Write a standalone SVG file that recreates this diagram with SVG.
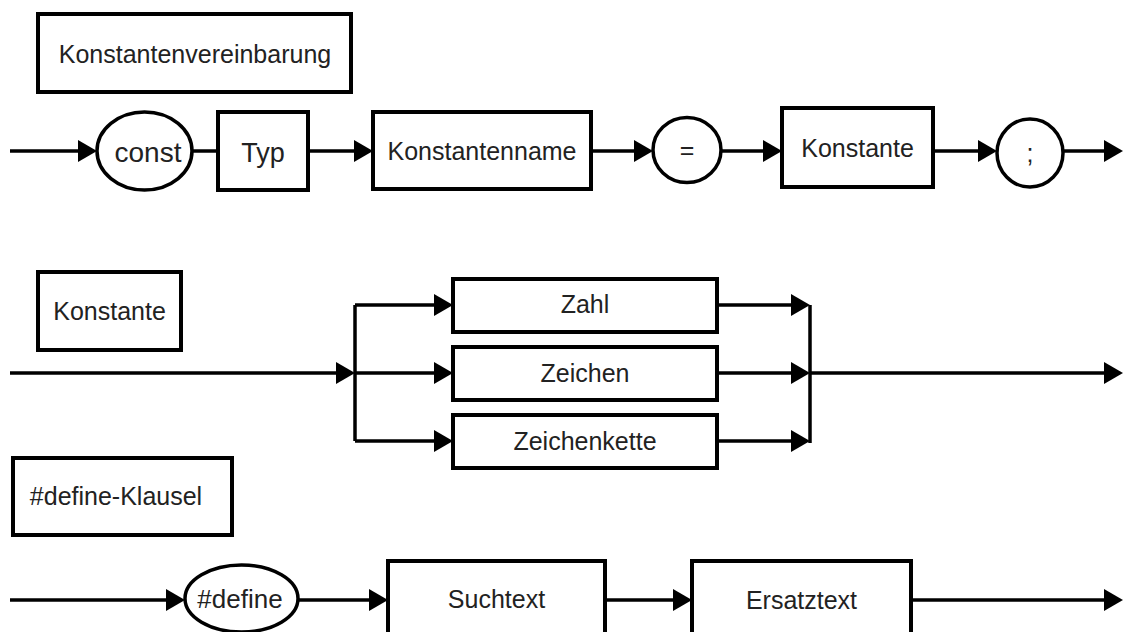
<svg xmlns="http://www.w3.org/2000/svg" width="1124" height="632" viewBox="0 0 1124 632">
  <style>
    .box { fill: #fff; stroke: #000; stroke-width: 4; }
    .term { fill: #fff; stroke: #000; stroke-width: 3.5; }
    .lbl { font-family: "Liberation Sans", Arial, sans-serif; font-size: 25px; fill: #222; text-anchor: middle; }
    .edge { fill: none; stroke: #000; stroke-width: 3.5; }
    .arrow { marker-end: url(#head); }
  </style>
  <defs>
    <marker id="head" markerUnits="userSpaceOnUse" markerWidth="20" markerHeight="22" refX="11" refY="11" orient="auto">
      <path d="M0,0 L19,11 L0,22 z" fill="#000"/>
    </marker>
  </defs>

  <rect width="1124" height="632" fill="#fff"/>

  <!-- connectors -->
  <g id="connectors">
    <!-- Konstantenvereinbarung -->
    <path class="edge arrow" d="M10,151 H89"/>
    <path class="edge" d="M192,151 H218"/>
    <path class="edge arrow" d="M308,151 H365"/>
    <path class="edge arrow" d="M591,151 H645"/>
    <path class="edge arrow" d="M721,151 H774"/>
    <path class="edge arrow" d="M933,151 H989"/>
    <path class="edge arrow" d="M1063,151 H1115"/>

    <!-- Konstante -->
    <path class="edge arrow" d="M10,373 H347"/>
    <path class="edge" d="M355,305 V441"/>
    <path class="edge arrow" d="M355,305 H445"/>
    <path class="edge arrow" d="M355,373 H445"/>
    <path class="edge arrow" d="M355,441 H445"/>
    <path class="edge arrow" d="M717,305 H802"/>
    <path class="edge arrow" d="M717,373 H802"/>
    <path class="edge arrow" d="M717,441 H802"/>
    <path class="edge" d="M810,305 V443"/>
    <path class="edge arrow" d="M810,373 H1115"/>

    <!-- #define-Klausel -->
    <path class="edge arrow" d="M10,600 H177"/>
    <path class="edge arrow" d="M298,600 H380"/>
    <path class="edge arrow" d="M605,600 H684"/>
    <path class="edge arrow" d="M911,600 H1115"/>
  </g>

  <!-- Konstantenvereinbarung -->
  <g id="title-konstantenvereinbarung">
    <rect class="box" x="38" y="14" width="313" height="78"/>
    <text class="lbl" x="195" y="63">Konstantenvereinbarung</text>
  </g>
  <g id="const">
    <ellipse class="term" cx="144.5" cy="151" rx="47.5" ry="39"/>
    <text class="lbl" x="148" y="162" style="font-size:28px">const</text>
  </g>
  <g id="typ">
    <rect class="box" x="218" y="112" width="90" height="78"/>
    <text class="lbl" x="263" y="162" style="font-size:27px">Typ</text>
  </g>
  <g id="konstantenname">
    <rect class="box" x="373" y="112" width="218" height="77"/>
    <text class="lbl" x="482" y="160">Konstantenname</text>
  </g>
  <g id="equals">
    <ellipse class="term" cx="687" cy="150" rx="34" ry="32.5"/>
    <text class="lbl" x="687" y="159">=</text>
  </g>
  <g id="konstante-ref">
    <rect class="box" x="782" y="108" width="151" height="79"/>
    <text class="lbl" x="857.5" y="157">Konstante</text>
  </g>
  <g id="semicolon">
    <ellipse class="term" cx="1030" cy="153" rx="33" ry="34"/>
    <text class="lbl" x="1030" y="162">;</text>
  </g>

  <!-- Konstante -->
  <g id="title-konstante">
    <rect class="box" x="38" y="272" width="143" height="78"/>
    <text class="lbl" x="109.5" y="320">Konstante</text>
  </g>
  <g id="zahl">
    <rect class="box" x="453" y="279" width="264" height="53"/>
    <text class="lbl" x="585" y="313">Zahl</text>
  </g>
  <g id="zeichen">
    <rect class="box" x="453" y="347" width="264" height="53"/>
    <text class="lbl" x="585" y="382">Zeichen</text>
  </g>
  <g id="zeichenkette">
    <rect class="box" x="453" y="415" width="264" height="53"/>
    <text class="lbl" x="585" y="450">Zeichenkette</text>
  </g>

  <!-- #define-Klausel -->
  <g id="title-define">
    <rect class="box" x="13" y="458" width="219" height="77"/>
    <text class="lbl" x="116" y="505">#define-Klausel</text>
  </g>
  <g id="define">
    <ellipse class="term" cx="241.5" cy="598.5" rx="56.5" ry="33.5"/>
    <text class="lbl" x="240" y="608" style="font-size:26px">#define</text>
  </g>
  <g id="suchtext">
    <rect class="box" x="388" y="561" width="217" height="90"/>
    <text class="lbl" x="496.5" y="608">Suchtext</text>
  </g>
  <g id="ersatztext">
    <rect class="box" x="692" y="561" width="219" height="90"/>
    <text class="lbl" x="801.5" y="609">Ersatztext</text>
  </g>
</svg>
